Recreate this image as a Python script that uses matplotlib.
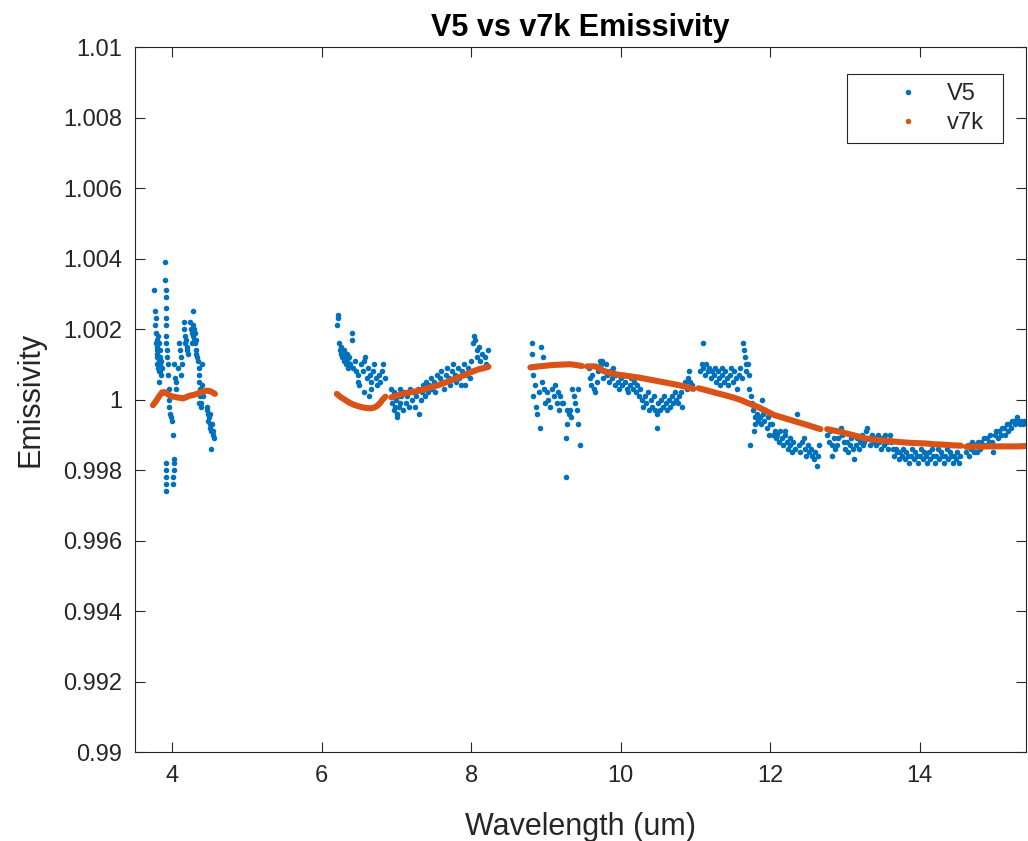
import numpy as np
import matplotlib
matplotlib.use("Agg")
import matplotlib.pyplot as plt
from matplotlib.lines import Line2D
from matplotlib.ticker import FuncFormatter

nan = np.nan

# V5 retrieval, one pair of lists per spectral band
v5_band1_x = [3.76, 3.77, 3.77, 3.78, 3.78, 3.78, 3.79, 3.79, 3.79, 3.80,
              3.80, 3.80, 3.81, 3.81, 3.81, 3.82, 3.82, 3.82, 3.83, 3.83,
              3.84, 3.84, 3.85, 3.85, 3.86, 3.82,
              3.90, 3.90, 3.91, 3.91, 3.91, 3.91, 3.92, 3.92, 3.92, 3.93,
              3.93, 3.94, 3.94, 3.95, 3.95, 3.96, 3.97, 3.98, 3.99, 4.01,
              3.92, 3.92, 3.92, 3.91, 3.91, 4.02, 4.02, 4.02, 4.01, 4.01,
              4.02, 4.04, 4.05, 4.05, 4.09, 4.10, 4.11, 4.11, 4.15, 4.16,
              4.17, 4.17, 4.18, 4.19, 4.20, 4.21, 4.07, 4.13,
              4.24, 4.25, 4.26, 4.27, 4.28, 4.28, 4.29, 4.29, 4.30, 4.30,
              4.31, 4.32, 4.33, 4.26, 4.31,
              4.34, 4.35, 4.36, 4.36, 4.37, 4.37, 4.38, 4.39, 4.39, 4.40,
              4.40, 4.41, 4.35,
              4.46, 4.47, 4.48, 4.48, 4.49, 4.50, 4.51, 4.52, 4.52, 4.53,
              4.54, 4.55, 4.56, 4.50]
v5_band1_y = [1.0031, 1.0025, 1.0021, 1.0023, 1.0019, 1.0016, 1.0017, 1.0014, 1.0012, 1.0015,
              1.0013, 1.0010, 1.0018, 1.0012, 1.0009, 1.0016, 1.0011, 1.0008, 1.0014, 1.0010,
              1.0012, 1.0008, 1.0011, 1.0007, 1.0009, 1.0005,
              1.0039, 1.0034, 1.0031, 1.0029, 1.0026, 1.0023, 1.0021, 1.0018, 1.0016, 1.0014,
              1.0012, 1.0010, 1.0007, 1.0003, 1.0000, 0.9998, 0.9996, 0.9995, 0.9994, 0.9990,
              0.9982, 0.9980, 0.9978, 0.9976, 0.9974, 0.9983, 0.9982, 0.9980, 0.9978, 0.9976,
              1.0010, 1.0006, 1.0005, 1.0003, 1.0016, 1.0014, 1.0012, 1.0007, 1.0022, 1.0020,
              1.0018, 1.0016, 1.0017, 1.0015, 1.0014, 1.0013, 1.0009, 1.0010,
              1.0022, 1.0020, 1.0019, 1.0018, 1.0025, 1.0021, 1.0017, 1.0020, 1.0016, 1.0019,
              1.0014, 1.0013, 1.0012, 1.0016, 1.0017,
              1.0011, 1.0007, 1.0005, 1.0009, 1.0003, 1.0001, 0.9999, 1.0002, 0.9998, 1.0010,
              1.0004, 1.0001, 0.9999,
              0.9997, 0.9998, 0.9996, 0.9994, 0.9995, 0.9993, 0.9992, 0.9991, 0.9986, 0.9993,
              0.9990, 0.9991, 0.9989, 0.9996]

v5_band2_x = [6.20, 6.22, 6.22, 6.23, 6.24, 6.25, 6.26, 6.27, 6.28, 6.29,
              6.30, 6.31, 6.32, 6.33, 6.34, 6.35, 6.36, 6.38, 6.40, 6.40,
              6.42, 6.44, 6.46, 6.48, 6.49, 6.50, 6.52, 6.55, 6.57, 6.58,
              6.60, 6.62, 6.63, 6.64, 6.66, 6.68, 6.70, 6.72, 6.74, 6.76,
              6.78, 6.80, 6.82, 6.84, 6.56, 6.66]
v5_band2_y = [1.0021, 1.0024, 1.0023, 1.0016, 1.0014, 1.0013, 1.0015, 1.0012, 1.0013, 1.0011,
              1.0014, 1.0012, 1.0010, 1.0013, 1.0011, 1.0009, 1.0012, 1.0010, 1.0019, 1.0017,
              1.0009, 1.0011, 1.0008, 1.0007, 1.0005, 1.0004, 1.0010, 1.0008, 1.0011, 1.0012,
              1.0006, 1.0009, 1.0001, 1.0007, 1.0005, 1.0008, 1.0010, 1.0006, 1.0004, 1.0007,
              1.0005, 1.0008, 1.0010, 1.0006, 1.0002, 1.0003]

v5_band3_x = [6.93, 6.94, 6.95, 6.96, 6.97, 6.98, 6.99, 7.00, 7.01, 7.02,
              7.03, 7.04, 7.05, 7.06, 7.08, 7.10, 7.12, 7.14, 7.16, 7.18,
              7.20, 7.22, 7.24, 7.26, 7.28, 7.30, 7.32, 7.34, 7.36, 7.38,
              7.40, 7.42, 7.44, 7.46, 7.48, 7.50, 7.52, 7.54, 7.56, 7.58,
              7.60, 7.62, 7.64, 7.66, 7.68, 7.70, 7.72, 7.74, 7.76, 7.78,
              7.80, 7.82, 7.84, 7.86, 7.88, 7.90, 7.92, 7.94, 7.96, 7.98,
              8.00, 8.02, 8.03, 8.05, 8.07, 8.08, 8.10, 8.12, 8.14, 8.16,
              8.18, 8.20, 8.22]
v5_band3_y = [1.0003, 0.9999, 1.0001, 0.9997, 1.0002, 0.9998, 1.0000, 0.9996, 0.9995, 1.0001,
              0.9998, 1.0003, 0.9999, 1.0001, 0.9997, 1.0002, 0.9999, 1.0001, 0.9998, 1.0003,
              1.0000, 1.0002, 0.9998, 1.0001, 1.0003, 0.9996, 1.0000, 1.0002, 1.0004, 1.0001,
              1.0005, 1.0002, 1.0004, 1.0006, 1.0003, 1.0005, 1.0002, 1.0007, 1.0004, 1.0006,
              1.0008, 1.0005, 1.0003, 1.0007, 1.0009, 1.0006, 1.0004, 1.0008, 1.0010, 1.0007,
              1.0005, 1.0009, 1.0006, 1.0004, 1.0008, 1.0010, 1.0004, 1.0007, 1.0009, 1.0006,
              1.0011, 1.0016, 1.0018, 1.0017, 1.0014, 1.0012, 1.0015, 1.0011, 1.0013, 1.0009,
              1.0012, 1.0010, 1.0014]

v5_band4_x = [8.81, 8.93, 8.81, 8.96, 8.82, 8.83, 8.86, 8.88, 8.90, 8.92,
              8.95, 8.97, 9.01, 9.03, 9.05, 9.08, 9.10, 9.12, 9.14, 9.16,
              9.19, 9.21, 9.23, 9.26, 9.28, 9.28, 9.30, 9.32, 9.35, 9.37,
              9.39, 9.41, 9.43, 9.43, 9.45, 8.85, 8.99, 9.17, 9.27, 9.33]
v5_band4_y = [1.0016, 1.0015, 1.0013, 1.0012, 1.0007, 1.0001, 0.9998, 0.9996, 1.0002, 0.9992,
              1.0005, 1.0003, 1.0002, 1.0000, 0.9998, 1.0003, 1.0001, 1.0004, 0.9999, 1.0002,
              1.0001, 0.9999, 0.9999, 0.9978, 0.9997, 0.9993, 0.9996, 0.9997, 1.0003, 1.0001,
              0.9999, 0.9997, 1.0003, 0.9993, 0.9987, 1.0004, 0.9999, 0.9997, 0.9989, 0.9995]

v5_band5_x = [9.57, 9.59, 9.60, 9.62, 9.64, 9.66, 9.68, 9.70, 9.72, 9.73,
              9.75, 9.76, 9.78, 9.80, 9.82, 9.84, 9.86, 9.88, 9.90, 9.92,
              9.94, 9.96, 9.98, 10.00, 10.02, 10.04, 10.06, 10.08, 10.10, 10.12,
              10.14, 10.16, 10.18, 10.20, 10.22, 10.24, 10.26, 10.28, 10.30, 10.32,
              10.34, 10.36, 10.38, 10.40, 10.42, 10.44, 10.46, 10.48, 10.48, 10.50,
              10.52, 10.54, 10.56, 10.58, 10.60, 10.62, 10.64, 10.66, 10.68, 10.70,
              10.72, 10.74, 10.76, 10.78, 10.80, 10.82, 10.84, 10.86, 10.88, 10.90,
              10.91, 10.93, 10.95]
v5_band5_y = [1.0009, 1.0006, 1.0004, 1.0007, 1.0003, 1.0002, 1.0005, 1.0008, 1.0011, 1.0010,
              1.0011, 1.0006, 1.0008, 1.0010, 1.0007, 1.0005, 1.0008, 1.0006, 1.0009, 1.0004,
              1.0007, 1.0005, 1.0003, 1.0006, 1.0004, 1.0007, 1.0005, 1.0003, 1.0002, 1.0004,
              1.0006, 1.0003, 1.0005, 1.0002, 1.0004, 1.0001, 1.0003, 1.0000, 0.9998, 1.0001,
              0.9999, 1.0002, 0.9997, 1.0000, 0.9998, 1.0001, 0.9997, 0.9996, 0.9992, 0.9999,
              0.9997, 1.0000, 0.9998, 1.0001, 0.9999, 0.9997, 1.0000, 0.9998, 1.0001, 0.9999,
              1.0002, 1.0000, 0.9999, 1.0001, 1.0002, 0.9998, 1.0004, 1.0005, 1.0003, 1.0006,
              1.0008, 1.0005, 1.0004]

v5_band6_x = [11.06, 11.08, 11.10, 11.10, 11.12, 11.14, 11.16, 11.18, 11.20, 11.22,
              11.24, 11.26, 11.28, 11.30, 11.32, 11.33, 11.35, 11.36, 11.38, 11.40,
              11.42, 11.44, 11.46, 11.48, 11.50, 11.52, 11.54, 11.56, 11.58, 11.60,
              11.62, 11.64, 11.65, 11.66, 11.67, 11.68, 11.70, 11.71, 11.72, 11.74]
v5_band6_y = [1.0008, 1.0010, 1.0016, 1.0009, 1.0007, 1.0010, 1.0008, 1.0009, 1.0006, 1.0008,
              1.0007, 1.0009, 1.0005, 1.0008, 1.0006, 1.0004, 1.0007, 1.0009, 1.0005, 1.0008,
              1.0006, 1.0004, 1.0007, 1.0009, 1.0005, 1.0008, 1.0006, 1.0003, 1.0007, 1.0009,
              1.0006, 1.0016, 1.0014, 1.0012, 1.0010, 1.0008, 1.0010, 1.0007, 1.0003, 1.0001]

v5_band7_x = [11.73, 11.76, 11.77, 11.78, 11.79, 11.80, 11.82, 11.83, 11.85, 11.86,
              11.88, 11.89, 11.90, 11.92, 11.93, 11.95, 11.97, 11.98, 12.00, 12.02,
              12.04, 12.06, 12.08, 12.09, 12.11, 12.13, 12.15, 12.17, 12.19, 12.20,
              12.22, 12.24, 12.26, 12.27, 12.29, 12.31, 12.33, 12.36, 12.38, 12.40,
              12.42, 12.45, 12.46, 12.48, 12.50, 12.52, 12.54, 12.56, 12.58, 12.60,
              12.62, 12.64, 12.65]
v5_band7_y = [0.9987, 0.9999, 0.9997, 0.9991, 0.9995, 0.9993, 0.9996, 0.9994, 0.9998, 0.9995,
              0.9993, 1.0000, 0.9996, 0.9994, 0.9997, 0.9992, 0.9995, 0.9990, 0.9993, 0.9993,
              0.9990, 0.9991, 0.9989, 0.9990, 0.9988, 0.9991, 0.9989, 0.9987, 0.9990, 0.9991,
              0.9988, 0.9986, 0.9989, 0.9987, 0.9985, 0.9988, 0.9986, 0.9996, 0.9987, 0.9985,
              0.9988, 0.9989, 0.9986, 0.9984, 0.9987, 0.9985, 0.9986, 0.9984, 0.9983, 0.9985,
              0.9981, 0.9984, 0.9987]

v5_band8_x = [12.76, 12.78, 12.80, 12.82, 12.83, 12.85, 12.87, 12.89, 12.91, 12.94,
              12.96, 12.98, 13.00, 13.02, 13.04, 13.06, 13.08, 13.10, 13.12, 13.14,
              13.16, 13.18, 13.20, 13.22, 13.24, 13.26, 13.28, 13.30, 13.32, 13.34,
              13.36, 13.38, 13.40, 13.42, 13.44, 13.46, 13.48, 13.50, 13.52, 13.54,
              13.56, 13.58, 13.60, 13.62, 13.64, 13.66, 13.68, 13.70, 13.72, 13.74,
              13.76, 13.78, 13.80, 13.82, 13.84, 13.86, 13.88, 13.90, 13.92, 13.94,
              13.96, 13.98, 14.00, 14.02, 14.04, 14.06, 14.08, 14.10, 14.12, 14.14,
              14.16, 14.18, 14.20, 14.22, 14.24, 14.26, 14.28, 14.30, 14.32, 14.34,
              14.36, 14.38, 14.40, 14.42, 14.44, 14.46, 14.48, 14.50, 14.52, 14.54]
v5_band8_y = [0.9990, 0.9988, 0.9991, 0.9987, 0.9984, 0.9989, 0.9986, 0.9987, 0.9989, 0.9992,
              0.9990, 0.9988, 0.9986, 0.9988, 0.9985, 0.9987, 0.9989, 0.9986, 0.9983, 0.9987,
              0.9989, 0.9986, 0.9988, 0.9990, 0.9987, 0.9988, 0.9991, 0.9992, 0.9989, 0.9987,
              0.9990, 0.9988, 0.9989, 0.9987, 0.9990, 0.9988, 0.9986, 0.9989, 0.9987, 0.9990,
              0.9988, 0.9986, 0.9990, 0.9988, 0.9986, 0.9984, 0.9986, 0.9985, 0.9983, 0.9985,
              0.9984, 0.9986, 0.9983, 0.9985, 0.9984, 0.9982, 0.9984, 0.9986, 0.9983, 0.9985,
              0.9984, 0.9982, 0.9984, 0.9986, 0.9983, 0.9985, 0.9984, 0.9982, 0.9985, 0.9983,
              0.9986, 0.9984, 0.9982, 0.9984, 0.9986, 0.9983, 0.9985, 0.9984, 0.9982, 0.9984,
              0.9986, 0.9983, 0.9985, 0.9984, 0.9982, 0.9984, 0.9983, 0.9985, 0.9982, 0.9984]

v5_band9_x = [14.62, 14.64, 14.66, 14.68, 14.70, 14.72, 14.74, 14.76, 14.78, 14.80,
              14.82, 14.84, 14.86, 14.88, 14.90, 14.92, 14.94, 14.96, 14.98, 15.00,
              15.02, 15.04, 15.06, 15.08, 15.10, 15.12, 15.14, 15.16, 15.18, 15.20,
              15.22, 15.24, 15.26, 15.28, 15.30, 15.32, 15.34, 15.36, 15.38, 15.40]
v5_band9_y = [0.9985, 0.9987, 0.9984, 0.9986, 0.9988, 0.9985, 0.9987, 0.9985, 0.9988, 0.9986,
              0.9988, 0.9987, 0.9989, 0.9987, 0.9989, 0.9988, 0.9990, 0.9988, 0.9985, 0.9990,
              0.9991, 0.9989, 0.9991, 0.9990, 0.9992, 0.9992, 0.9990, 0.9993, 0.9991, 0.9993,
              0.9992, 0.9994, 0.9994, 0.9993, 0.9995, 0.9994, 0.9993, 0.9994, 0.9993, 0.9994]

# v7k retrieval (smooth), bands separated by nan
v7k_x = [3.74, 3.78, 3.82, 3.86, 3.90, 3.94, 3.98, 4.02, 4.06, 4.10,
         4.14, 4.18, 4.22, 4.26, 4.30, 4.34, 4.38, 4.42, 4.46, 4.50,
         4.54, 4.57, nan,
         6.20, 6.25, 6.31, 6.37, 6.43, 6.49, 6.54, 6.60, 6.65, 6.70,
         6.74, 6.78, 6.81, 6.85, nan,
         6.93, 7.00, 7.10, 7.20, 7.30, 7.40, 7.50, 7.60, 7.70, 7.80,
         7.90, 8.00, 8.10, 8.20, 8.23, nan,
         8.79, 8.90, 9.00, 9.10, 9.20, 9.32, 9.40, 9.48, nan,
         9.55, 9.66, 9.72, 9.77, 9.85, 9.95, 10.05, 10.15, 10.25, 10.35,
         10.45, 10.55, 10.65, 10.75, 10.85, 10.97, nan,
         11.04, 11.15, 11.25, 11.38, 11.50, 11.60, 11.70, 11.82, 11.94, 12.05,
         12.16, 12.27, 12.38, 12.49, 12.58, 12.67, nan,
         12.76, 12.85, 12.94, 13.05, 13.16, 13.25, 13.34, 13.45, 13.55, 13.65,
         13.75, 13.88, 14.00, 14.10, 14.20, 14.32, 14.44, 14.55, nan,
         14.62, 14.75, 14.90, 15.00, 15.10, 15.20, 15.30, 15.42]
v7k_y = [0.99984, 0.99995, 1.00008, 1.00020, 1.00021, 1.00015, 1.00010, 1.00008, 1.00006, 1.00005,
         1.00003, 1.00006, 1.00010, 1.00012, 1.00014, 1.00017, 1.00020, 1.00023, 1.00025, 1.00024,
         1.00020, 1.00016, nan,
         1.00016, 1.00007, 0.99999, 0.99991, 0.99985, 0.99981, 0.99978, 0.99976, 0.99975, 0.99977,
         0.99982, 0.99990, 0.99999, 1.00008, nan,
         1.00006, 1.00011, 1.00017, 1.00021, 1.00025, 1.00031, 1.00037, 1.00044, 1.00052, 1.00060,
         1.00069, 1.00078, 1.00086, 1.00091, 1.00093, nan,
         1.00091, 1.00094, 1.00096, 1.00098, 1.00099, 1.00100, 1.00098, 1.00095, nan,
         1.00094, 1.00094, 1.00088, 1.00081, 1.00076, 1.00071, 1.00068, 1.00065, 1.00062, 1.00058,
         1.00054, 1.00050, 1.00046, 1.00042, 1.00037, 1.00030, nan,
         1.00032, 1.00026, 1.00020, 1.00013, 1.00006, 0.99999, 0.99990, 0.99980, 0.99968, 0.99956,
         0.99949, 0.99942, 0.99935, 0.99928, 0.99922, 0.99916, nan,
         0.99916, 0.99912, 0.99908, 0.99902, 0.99896, 0.99891, 0.99887, 0.99885, 0.99883, 0.99881,
         0.99879, 0.99877, 0.99876, 0.99875, 0.99873, 0.99872, 0.99870, 0.99869, nan,
         0.99866, 0.99866, 0.99867, 0.99867, 0.99867, 0.99867, 0.99867, 0.99868]

y_ticks = [0.99, 0.992, 0.994, 0.996, 0.998, 1.0, 1.002, 1.004, 1.006, 1.008, 1.01]
x_ticks = [4, 6, 8, 10, 12, 14]

BLUE = "#0072BD"
ORANGE = "#D95319"
AXIS_GREY = "#262626"


def plot_emissivity():
    v5_x = (v5_band1_x + v5_band2_x + v5_band3_x + v5_band4_x + v5_band5_x +
            v5_band6_x + v5_band7_x + v5_band8_x + v5_band9_x)
    v5_y = (v5_band1_y + v5_band2_y + v5_band3_y + v5_band4_y + v5_band5_y +
            v5_band6_y + v5_band7_y + v5_band8_y + v5_band9_y)

    plt.rcParams["font.family"] = ["Liberation Sans", "DejaVu Sans"]
    fig = plt.figure(figsize=(10.28, 8.41), dpi=100)
    ax = fig.add_axes([0.1313, 0.1058, 0.8667, 0.8383])

    ax.plot(v5_x, v5_y, linestyle="none", marker="o", markersize=4.0,
            markeredgewidth=0, color=BLUE)
    ax.plot(v7k_x, v7k_y, linestyle="-", linewidth=4.4, color=ORANGE,
            solid_capstyle="round", solid_joinstyle="round")

    ax.set_xlim(3.5, 15.42)
    ax.set_ylim(0.99, 1.01)
    ax.set_xticks(x_ticks)
    ax.set_yticks(y_ticks)
    ax.yaxis.set_major_formatter(FuncFormatter(lambda v, pos: f"{round(v, 4):g}"))
    ax.tick_params(direction="in", length=7, width=0.8, top=True, right=True,
                   labelsize=17, colors=AXIS_GREY, pad=9)
    for spine in ax.spines.values():
        spine.set_color(AXIS_GREY)
        spine.set_linewidth(0.8)

    ax.set_xlabel("Wavelength (um)", fontsize=22, color=AXIS_GREY, labelpad=18)
    ax.set_ylabel("Emissivity", fontsize=22, color=AXIS_GREY, labelpad=13)
    ax.set_title("V5 vs v7k Emissivity", fontsize=22, fontweight="bold", pad=8)

    handles = [Line2D([], [], linestyle="none", marker="o", markersize=4.0,
                      markeredgewidth=0, color=BLUE),
               Line2D([], [], linestyle="none", marker="o", markersize=4.0,
                      markeredgewidth=0, color=ORANGE)]
    leg = ax.legend(handles, ["V5", "v7k"], loc="upper right",
                    bbox_to_anchor=(0.799, 0.8624, 0.175, 0.0993), mode="expand",
                    borderaxespad=0, fontsize=17, handlelength=4.4,
                    handletextpad=-0.55, borderpad=0.38, labelspacing=0.3,
                    fancybox=False, framealpha=1)
    leg.get_frame().set_edgecolor(AXIS_GREY)
    leg.get_frame().set_linewidth(0.8)
    for text in leg.get_texts():
        text.set_color(AXIS_GREY)

    fig.savefig("out.png", dpi=100)
    plt.close(fig)


if __name__ == "__main__":
    plot_emissivity()
